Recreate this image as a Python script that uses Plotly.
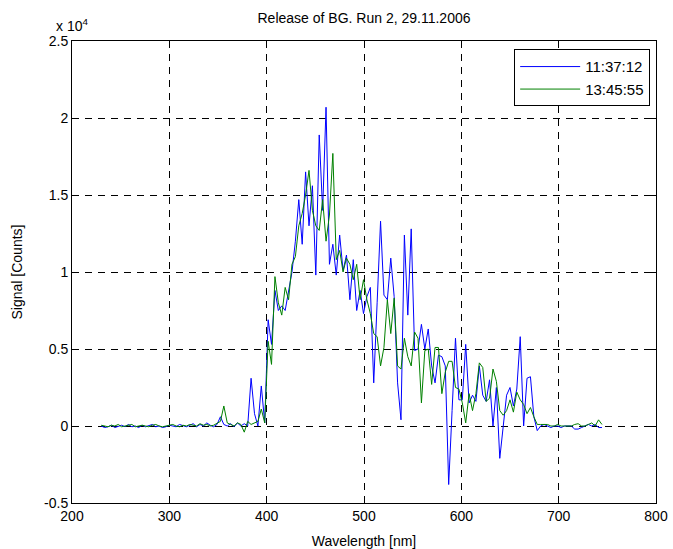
import plotly.graph_objects as go

wavelength = [
    230.0, 233.5, 237.0, 240.5, 244.0, 247.5, 251.0, 254.5, 258.0, 261.5,
    265.0, 268.5, 272.0, 275.5, 279.0, 282.5, 286.0, 289.5, 293.0, 296.5,
    300.0, 303.5, 307.0, 310.5, 314.0, 317.5, 321.0, 324.5, 328.0, 331.5,
    335.0, 338.5, 342.0, 345.5, 349.0, 352.5, 356.0, 359.5, 363.0, 366.5,
    370.0, 373.5, 377.0, 380.5, 384.0, 387.5, 391.0, 394.5, 398.0, 401.5,
    405.0, 408.5, 412.0, 415.5, 419.0, 422.5, 426.0, 429.5, 433.0, 436.5,
    440.0, 443.5, 447.0, 450.5, 454.0, 457.5, 461.0, 464.5, 468.0, 471.5,
    475.0, 478.5, 482.0, 485.5, 489.0, 492.5, 496.0, 499.5, 503.0, 506.5,
    510.0, 513.5, 517.0, 520.5, 524.0, 527.5, 531.0, 534.5, 538.0, 541.5,
    545.0, 548.5, 552.0, 555.5, 559.0, 562.5, 566.0, 569.5, 573.0, 576.5,
    580.0, 583.5, 587.0, 590.5, 594.0, 597.5, 601.0, 604.5, 608.0, 611.5,
    615.0, 618.5, 622.0, 625.5, 629.0, 632.5, 636.0, 639.5, 643.0, 646.5,
    650.0, 653.5, 657.0, 660.5, 664.0, 667.5, 671.0, 674.5, 678.0, 681.5,
    685.0, 688.5, 692.0, 695.5, 699.0, 702.5, 706.0, 709.5, 713.0, 716.5,
    720.0, 723.5, 727.0, 730.5, 734.0, 737.5, 741.0, 744.5,
]

signal_113712 = [
    0, -100, -50, 50, -100, 0, 50, -50, 100, -50,
    0, -100, 50, -50, 0, 100, -50, 0, -100, -50,
    50, 0, -50, 100, 0, -50, 50, 150, -50, 100,
    0, 200, 50, -50, 100, 600, 100, 0, 150, -50,
    200, 0, 150, 0, 3100, 800, 0, 2600, 200,
    6900, 5300, 8800, 7500, 7800, 7500, 8800, 10000, 12000, 14700,
    11800, 16500, 13000, 15600, 9800, 18900, 14000, 20700, 10500, 11800,
    9800, 12400, 10100, 11100, 8200, 10800, 7500, 8800, 7300, 8400,
    9000, 2800, 8000, 13300, 8500, 8200, 10900, 8400, 2800, 400,
    12400, 7200, 12800, 4900, 5000, 6600, 5000, 6300, 3900, 2800,
    4600, 4500, 3900, -3800, 1000, 5700, 1700, 1700, 5300, 1500,
    2000, 1600, 3900, 2000, 1600, 3000, 0, 2500, -2100, 0,
    2000, 2500, 1300, 2400, 5800, 0, 3100, 3200, 600, -300,
    0,
    100, 0, -100, 0, 0, -100, 0, 0, 0, -200,
    -200, -100, 0, 100, 0, 100, -100, -100,
]

signal_134555 = [
    50, 0, -50, 50, 0, 100, -50, 0, 50, 100,
    -50, 0, 50, 0, -50, 50, 100, 0, -50, 0,
    50, 100, 0, -50, 50, 0, 100, 50, 0, 150,
    50, 100, 0, 50, 150, 300, 1300, 200, 100, 0,
    200, 100, -400, 300, 100, 200, 300, 1100, 200,
    5500, 4000, 9700, 8000, 7200, 9000, 8200, 10500, 11000, 13000,
    13800, 15000, 16600, 14000, 13000, 12700, 14700, 12000, 13700, 17700,
    10800, 11400, 10000, 10900, 10500, 9500, 10500, 8200, 9500, 8200,
    7300, 6000, 5800, 3900, 5100, 8200, 6000, 8300, 3900, 3700,
    5700, 4500, 3900, 6100, 5700, 1500, 4900, 5000, 2700, 5100,
    5100, 2100, 3500, 4200, 4200, 2500, 2400, 1500, 200, 2100,
    1000, 2100, 4100, 3800, 1600, 1800, 3700, 2900, 1000, 700,
    1000, 1700, 900, 2200, 1700, 1400, 800, 1200, 600, 100,
    100,
    100, 100, 0, 0, 100, 0, 0, 0, 0, 100,
    150, 0, 0, 100, 200, 0, 400, 100,
]

series_names = ["11:37:12", "13:45:55"]
series_colors = ["#0000FF", "#008000"]

x_ticks = [200, 300, 400, 500, 600, 700, 800]
y_ticks = [-5000, 0, 5000, 10000, 15000, 20000, 25000]
y_tick_text = ["-0.5", "0", "0.5", "1", "1.5", "2", "2.5"]

FONT = "Liberation Sans, Arial, sans-serif"

fig = go.Figure()
for name, col, vals in zip(series_names, series_colors,
                           [signal_113712, signal_134555]):
    fig.add_trace(go.Scatter(x=wavelength, y=vals, mode="lines", name=name,
                             line=dict(color=col, width=1)))

axis_common = dict(
    showline=True, linecolor="black", linewidth=1, mirror="ticks",
    ticks="inside", ticklen=5, tickcolor="black",
    showgrid=True, gridcolor="black", gridwidth=1, griddash="7px,6px",
    zeroline=False, automargin=False,
    tickfont=dict(family=FONT, size=14, color="black"),
)

fig.update_layout(
    width=673, height=549,
    margin=dict(l=72, r=17, t=41, b=46),
    paper_bgcolor="white", plot_bgcolor="white",
    font=dict(family=FONT, size=14, color="black"),
    title=dict(text="Release of BG. Run 2, 29.11.2006", x=364 / 673,
               xanchor="center", y=1 - 18 / 549, yanchor="middle",
               xref="container", yref="container",
               font=dict(family=FONT, size=14, color="black")),
    xaxis=dict(range=[200, 800], tickvals=x_ticks,
               title=dict(text="Wavelength [nm]", standoff=14,
                          font=dict(family=FONT, size=14)),
               **axis_common),
    yaxis=dict(range=[-5000, 25000], tickvals=y_ticks, ticktext=y_tick_text,
               title=dict(text="Signal [Counts]", standoff=18,
                          font=dict(family=FONT, size=14)),
               **axis_common),
    legend=dict(x=0.99, y=0.982, xanchor="right", yanchor="top",
                bgcolor="white", bordercolor="black", borderwidth=1,
                font=dict(family=FONT, size=15, color="black"),
                itemwidth=60, tracegroupgap=2),
    showlegend=True,
)

fig.add_annotation(text="x 10<sup>4</sup>", xref="paper", yref="paper",
                   x=-0.03, y=1 + 16 / 462, xanchor="left", yanchor="middle",
                   showarrow=False,
                   font=dict(family=FONT, size=14, color="black"))

fig.write_html("out.html")
